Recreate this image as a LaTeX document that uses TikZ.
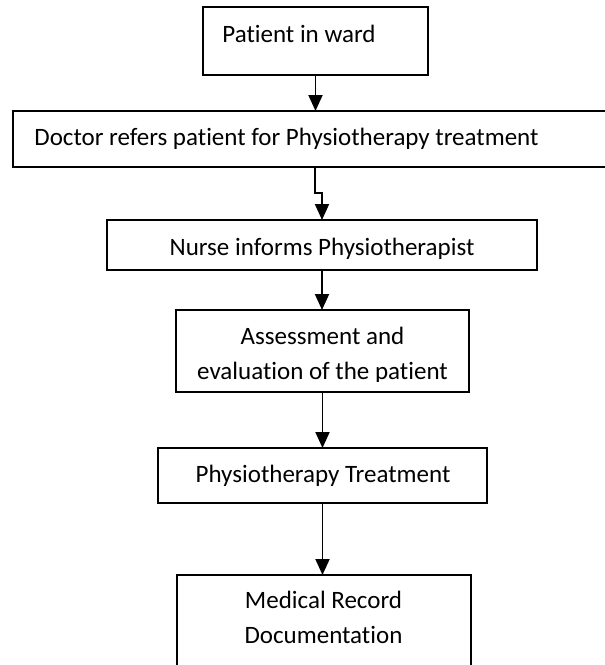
\documentclass[tikz,border=0pt]{standalone}
\usepackage{fontspec}
\setmainfont[Ligatures={NoCommon}]{Carlito}
\usetikzlibrary{arrows.meta}
\begin{document}
\begin{tikzpicture}[x=0.5pt,y=-0.5pt,
  box/.style={draw, line width=0.9pt, rectangle, inner sep=0pt, outer sep=0pt},
  lbl/.style={inner sep=0pt, font=\fontsize{12.5pt}{17.5pt}\selectfont, align=center},
  conn/.style={line width=0.95pt, -{Triangle[width=7pt,length=8pt]}}]
\useasboundingbox (0,0) rectangle (605,665);
\clip (0,0) rectangle (605,665);
% boxes
\node[box, minimum width=112.5pt, minimum height=34pt] (b1) at (315.5,41) {};
\node[box, minimum width=299.5pt, minimum height=28pt] (b2) at (312.5,139) {};
\node[box, minimum width=215pt, minimum height=25pt] (b3) at (322,245) {};
\node[box, minimum width=146.5pt, minimum height=41pt] (b4) at (322.5,351) {};
\node[box, minimum width=164.5pt, minimum height=27.5pt] (b5) at (322.5,475.5) {};
\node[box, minimum width=147pt, minimum height=52.5pt] (b6) at (324,627.5) {};
% texts
\node[lbl, anchor=base west] (t1) at (222,42) {Patient in ward};
\node[lbl, anchor=base west] (t2) at (34,145) {Doctor refers patient for Physiotherapy treatment};
\node[lbl, anchor=base] (t3) at (322,255) {Nurse informs Physiotherapist};
\begin{scope}
\clip (176,310) rectangle (469,381);
\node[lbl, anchor=base] (t4) at (322.5,379) {Assessment and\\evaluation of the patient};
\end{scope}
\node[lbl, anchor=base] (t5) at (323,482) {Physiotherapy Treatment};
\node[lbl, anchor=base] (t6) at (323.5,643) {Medical Record\\Documentation};
% connectors
\coordinate (j1) at (315,193);
\draw[conn] (b1.south) -- (b1.south |- b2.north);
\draw[conn] (j1 |- b2.south) -- (j1) -| (b3.north);
\draw[conn] (b3.south) -- (b3.south |- b4.north);
\draw[conn] (b4.south) -- (b4.south |- b5.north);
\draw[conn] (b5.south) -- (b5.south |- b6.north);
\end{tikzpicture}
\end{document}
